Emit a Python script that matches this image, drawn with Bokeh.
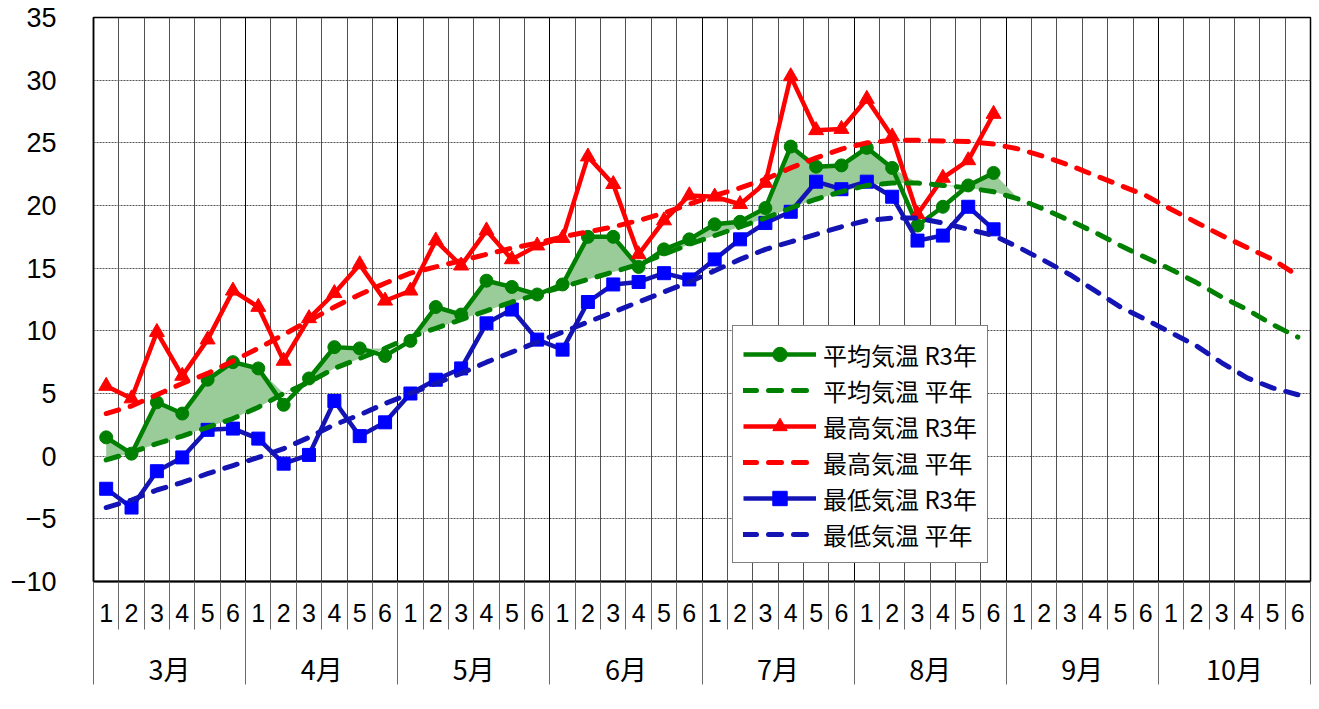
from bokeh.plotting import figure
from bokeh.models import Range1d, FixedTicker, LinearAxis, Grid, Legend, LegendItem
from bokeh.embed import file_html
from bokeh.resources import INLINE

# ---- data ----
months = ["3月", "4月", "5月", "6月", "7月", "8月", "9月", "10月"]
pentads = ["1", "2", "3", "4", "5", "6"]

mean_r3 = [1.5, 0.2, 4.3, 3.4, 6.1, 7.5, 7.0, 4.1, 6.2, 8.7, 8.6, 8.0,
           9.2, 11.9, 11.3, 14.0, 13.5, 12.9, 13.7, 17.5, 17.5, 15.1, 16.5, 17.3,
           18.5, 18.7, 19.8, 24.7, 23.1, 23.2, 24.6, 23.0, 18.4, 19.9, 21.6, 22.6]
mean_normal = [-0.3, 0.3, 1.0, 1.6, 2.3, 3.0, 3.9, 5.0, 5.9, 7.0, 7.8, 8.6,
               9.5, 10.2, 10.9, 11.6, 12.3, 12.9, 13.5, 14.1, 14.7, 15.3, 16.1, 16.9,
               17.6, 18.3, 19.0, 19.8, 20.5, 21.1, 21.6, 21.8, 21.8, 21.6, 21.4, 21.1,
               20.5, 19.7, 18.8, 17.85, 16.8, 15.85, 14.9, 13.85, 12.7, 11.7, 10.5, 9.5]
max_r3 = [5.6, 4.6, 9.9, 6.4, 9.3, 13.2, 11.9, 7.6, 11.0, 13.0, 15.3, 12.4,
          13.2, 17.2, 15.2, 18.0, 15.7, 16.8, 17.4, 23.9, 21.7, 16.1, 18.8, 20.8,
          20.7, 20.1, 21.8, 30.3, 26.0, 26.1, 28.5, 25.5, 19.3, 22.2, 23.6, 27.3]
max_normal = [3.4, 4.0, 4.9, 5.8, 6.6, 7.6, 8.6, 9.7, 10.8, 11.9, 12.9, 13.8,
              14.6, 15.1, 15.6, 16.1, 16.6, 17.0, 17.5, 17.9, 18.3, 18.8, 19.4, 20.1,
              20.8, 21.4, 22.1, 23.0, 23.8, 24.5, 25.0, 25.2, 25.2, 25.15, 25.1, 24.9,
              24.5, 23.9, 23.2, 22.4, 21.6, 20.8, 19.7, 18.65, 17.6, 16.65, 15.7, 14.4]
min_r3 = [-2.6, -4.1, -1.2, -0.1, 2.1, 2.2, 1.4, -0.6, 0.1, 4.4, 1.6, 2.7,
          5.0, 6.1, 7.0, 10.6, 11.7, 9.3, 8.5, 12.3, 13.7, 13.9, 14.6, 14.1,
          15.7, 17.3, 18.6, 19.5, 21.9, 21.3, 21.9, 20.7, 17.2, 17.6, 19.9, 18.1]
min_normal = [-4.1, -3.5, -2.7, -2.1, -1.4, -0.75, -0.1, 0.6, 1.5, 2.5, 3.3, 4.2,
              5.0, 5.8, 6.6, 7.5, 8.3, 9.1, 9.9, 10.7, 11.5, 12.3, 13.1, 13.9,
              14.8, 15.7, 16.5, 17.1, 17.7, 18.3, 18.8, 19.0, 19.0, 18.6, 18.1, 17.6,
              16.65, 15.6, 14.5, 13.2, 11.9, 10.9, 9.85, 8.8, 7.45, 6.25, 5.45, 4.9]

y_ticks = [-10, -5, 0, 5, 10, 15, 20, 25, 30, 35]
y_tick_labels = ["−10", "−5", "0", "5", "10", "15", "20", "25", "30", "35"]

legend_labels = ["平均気温 R3年", "平均気温 平年", "最高気温 R3年",
                 "最高気温 平年", "最低気温 R3年", "最低気温 平年"]

# ---- derived positions ----
n = len(months) * len(pentads)
x_all = list(range(1, n + 1))
m = len(mean_r3)
x_r3 = x_all[:m]
bounds = [x - 0.5 for x in x_all] + [n + 0.5]
month_bounds = [bounds[i] for i in range(0, n + 1, len(pentads))]
month_centers = [(month_bounds[i] + month_bounds[i + 1]) / 2 for i in range(len(months))]

FONT = "Noto Sans CJK JP"
NUMFONT = "Liberation Sans Narrow, Liberation Sans"
GREEN = "#008000"
RED = "#FF0000"
BLUE_LINE = "#1414B4"
BLUE_MARK = "#0000FF"
DASH = "13 12"

p = figure(width=1318, height=708,
           x_range=Range1d(0.5, n + 0.5), y_range=Range1d(-10, 35),
           output_backend="svg", toolbar_location=None,
           min_border_left=93, min_border_right=8, min_border_top=17,
           min_border_bottom=127)
p.grid.visible = False
p.background_fill_color = "white"
p.border_fill_color = "white"
p.outline_line_color = "black"
p.outline_line_width = 1.5

# grids
p.add_layout(Grid(dimension=1, ticker=FixedTicker(ticks=y_ticks[1:-1]),
                  grid_line_color="#555555", grid_line_dash="2 1", grid_line_width=1))
p.add_layout(Grid(dimension=0, ticker=FixedTicker(ticks=bounds),
                  grid_line_color="#505050", grid_line_width=1))
p.add_layout(Grid(dimension=0, ticker=FixedTicker(ticks=month_bounds),
                  grid_line_color="black", grid_line_width=1))

# fill between R3 mean and normal mean (where above)
fill_x = x_all[:m + 1]
fill_lo = mean_normal[:m + 1]
fill_hi = [max(a, b) for a, b in zip(mean_r3 + [mean_normal[m]], fill_lo)]
p.varea(x=fill_x, y1=fill_lo, y2=fill_hi, fill_color="#99CC99", fill_alpha=1)

# R3 series
g_line = p.line(x_r3, mean_r3, line_color=GREEN, line_width=4.5)
g_mark = p.scatter(x_r3, mean_r3, marker="circle", size=13,
                   fill_color=GREEN, line_color=GREEN)
r_line = p.line(x_r3, max_r3, line_color=RED, line_width=4.5)
r_mark = p.scatter(x_r3, max_r3, marker="triangle", size=15,
                   fill_color=RED, line_color=RED)
b_line = p.line(x_r3, min_r3, line_color=BLUE_LINE, line_width=4.5)
b_mark = p.scatter(x_r3, min_r3, marker="square", size=13,
                   fill_color=BLUE_MARK, line_color=BLUE_MARK)

# normals
g_norm = p.line(x_all, mean_normal, line_color=GREEN, line_width=5,
                line_dash=DASH, line_cap="round")
r_norm = p.line(x_all, max_normal, line_color=RED, line_width=5,
                line_dash=DASH, line_cap="round")
b_norm = p.line(x_all, min_normal, line_color=BLUE_LINE, line_width=5,
                line_dash=DASH, line_cap="round")

# y axis
ya = p.yaxis[0]
ya.ticker = FixedTicker(ticks=y_ticks)
ya.major_label_overrides = dict(zip(y_ticks, y_tick_labels))
ya.major_tick_out = 0
ya.major_tick_in = 0
ya.minor_tick_out = 0
ya.minor_tick_in = 0
ya.major_label_standoff = 37
ya.axis_line_color = "black"
ya.axis_line_width = 1.5
ya.major_label_text_font = "Liberation Sans"
ya.major_label_text_font_size = "27px"
ya.major_label_text_color = "black"

# x axis: pentad numbers
xa = p.xaxis[0]
xa.ticker = FixedTicker(ticks=x_all, minor_ticks=bounds)
xa.major_label_overrides = {x: pentads[(x - 1) % len(pentads)] for x in x_all}
xa.major_tick_out = 0
xa.major_tick_in = 0
xa.major_tick_line_color = None
xa.minor_tick_out = 48
xa.minor_tick_in = 0
xa.minor_tick_line_color = "#6a6a6a"
xa.major_label_standoff = -26
xa.axis_line_color = "black"
xa.axis_line_width = 2
xa.major_label_text_font = NUMFONT
xa.major_label_text_font_size = "25px"
xa.major_label_text_color = "black"

# x axis: months
ma = LinearAxis(ticker=FixedTicker(ticks=month_centers, minor_ticks=month_bounds),
                major_label_overrides=dict(zip(month_centers, months)),
                major_tick_out=0, major_tick_in=0, major_tick_line_color=None,
                minor_tick_out=60, minor_tick_in=25, minor_tick_line_color="#6a6a6a",
                axis_line_color=None, major_label_standoff=-36,
                major_label_text_font=FONT, major_label_text_font_size="27px",
                major_label_text_color="black")
p.add_layout(ma, "below")

# legend
items = [
    LegendItem(label=legend_labels[0], renderers=[g_line, g_mark]),
    LegendItem(label=legend_labels[1], renderers=[g_norm]),
    LegendItem(label=legend_labels[2], renderers=[r_line, r_mark]),
    LegendItem(label=legend_labels[3], renderers=[r_norm]),
    LegendItem(label=legend_labels[4], renderers=[b_line, b_mark]),
    LegendItem(label=legend_labels[5], renderers=[b_norm]),
]
legend = Legend(items=items, location=(639, 18), orientation="vertical",
                glyph_width=73, glyph_height=36, label_height=36, spacing=0,
                padding=10, margin=0, label_standoff=7,
                label_text_font=FONT, label_text_font_size="24px",
                label_text_color="black",
                border_line_color="black", border_line_width=1,
                background_fill_color="white", background_fill_alpha=1)
p.add_layout(legend)

open("out.html", "w").write(file_html(p, INLINE))
